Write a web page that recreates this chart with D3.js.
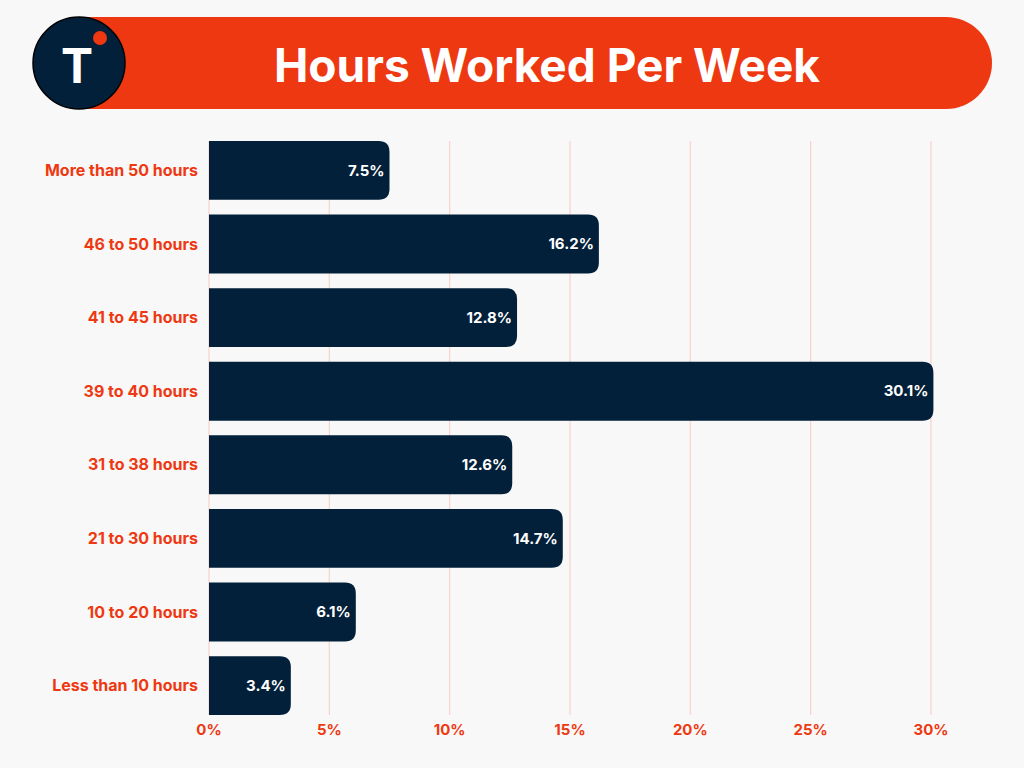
<!DOCTYPE html>
<html lang="en">
<head>
<meta charset="UTF-8">
<title>Hours Worked Per Week</title>
<script src="https://d3js.org/d3.v7.min.js"></script>
<style>
  body { margin: 0; background: #f8f8f8; }
  svg { display: block; font-family: "Inter", "Lato", sans-serif; }
</style>
</head>
<body>
<svg id="chart" width="1024" height="768"></svg>
<script>
  // data
  var categories = ["More than 50 hours", "46 to 50 hours", "41 to 45 hours", "39 to 40 hours",
                    "31 to 38 hours", "21 to 30 hours", "10 to 20 hours", "Less than 10 hours"];
  var values = [7.5, 16.2, 12.8, 30.1, 12.6, 14.7, 6.1, 3.4];
  var ticks = [0, 5, 10, 15, 20, 25, 30];
  var title = "Hours Worked Per Week";

  var red = "#ee3811", navy = "#022039";

  var svg = d3.select("#chart");
  svg.append("rect").attr("width", 1024).attr("height", 768).attr("fill", "#f8f8f8");

  // header pill
  var hx0 = 79, hx1 = 992, hy0 = 17, hy1 = 109, hr = (hy1 - hy0) / 2;
  svg.append("path")
    .attr("d", "M" + hx0 + "," + hy0 + "H" + (hx1 - hr) +
      "A" + hr + "," + hr + " 0 0 1 " + (hx1 - hr) + "," + hy1 + "H" + hx0 + "Z")
    .attr("fill", red);
  svg.append("circle").attr("cx", 79).attr("cy", 63).attr("r", 46)
    .attr("fill", navy).attr("stroke", "#000").attr("stroke-width", 1.5);
  svg.append("circle").attr("cx", 100).attr("cy", 38).attr("r", 7).attr("fill", red);
  svg.append("text").attr("x", 77).attr("y", 83).attr("text-anchor", "middle")
    .attr("fill", "#fff").attr("font-size", 48).attr("font-weight", 700).text("T");
  svg.append("text").attr("x", 547).attr("y", 82).attr("text-anchor", "middle")
    .attr("fill", "#fff").attr("font-size", 46).attr("font-weight", 700).text(title);

  // scales
  var x = d3.scaleLinear().domain([0, 30]).range([209, 931]);
  var y = d3.scaleBand().domain(categories).range([133.6, 722.4])
    .paddingInner(0.2).paddingOuter(0.1);

  var gridTop = y(categories[0]),
      gridBottom = y(categories[categories.length - 1]) + y.bandwidth();

  // grid
  svg.append("g").selectAll("line").data(ticks).enter().append("line")
    .attr("x1", function(d) { return x(d); }).attr("x2", function(d) { return x(d); })
    .attr("y1", gridTop).attr("y2", gridBottom)
    .attr("stroke", "#f7d3cb").attr("stroke-width", 1.2);

  // x axis labels
  svg.append("g").selectAll("text").data(ticks).enter().append("text")
    .attr("x", function(d) { return x(d); }).attr("y", 735)
    .attr("text-anchor", "middle").attr("fill", red)
    .attr("font-size", 15).attr("font-weight", 700)
    .text(function(d) { return d + "%"; });

  // bars, rounded on the right end only
  var r = 11;
  function barPath(v, cat) {
    var x0 = x(0), x1 = x(v), y0 = y(cat), h = y.bandwidth();
    return "M" + x0 + "," + y0 + "H" + (x1 - r) +
      "Q" + x1 + "," + y0 + " " + x1 + "," + (y0 + r) +
      "V" + (y0 + h - r) +
      "Q" + x1 + "," + (y0 + h) + " " + (x1 - r) + "," + (y0 + h) +
      "H" + x0 + "Z";
  }
  svg.append("g").selectAll("path").data(categories).enter().append("path")
    .attr("d", function(d, i) { return barPath(values[i], d); })
    .attr("fill", navy);

  // value labels
  svg.append("g").selectAll("text").data(categories).enter().append("text")
    .attr("x", function(d, i) { return x(values[i]) - 5; })
    .attr("y", function(d) { return y(d) + y.bandwidth() / 2; })
    .attr("dy", "0.35em").attr("text-anchor", "end")
    .attr("fill", "#fff").attr("font-size", 15).attr("font-weight", 700)
    .text(function(d, i) { return values[i] + "%"; });

  // category labels
  svg.append("g").selectAll("text").data(categories).enter().append("text")
    .attr("x", 198)
    .attr("y", function(d) { return y(d) + y.bandwidth() / 2; })
    .attr("dy", "0.35em").attr("text-anchor", "end")
    .attr("fill", red).attr("font-size", 16).attr("font-weight", 700)
    .text(function(d) { return d; });
</script>
</body>
</html>
